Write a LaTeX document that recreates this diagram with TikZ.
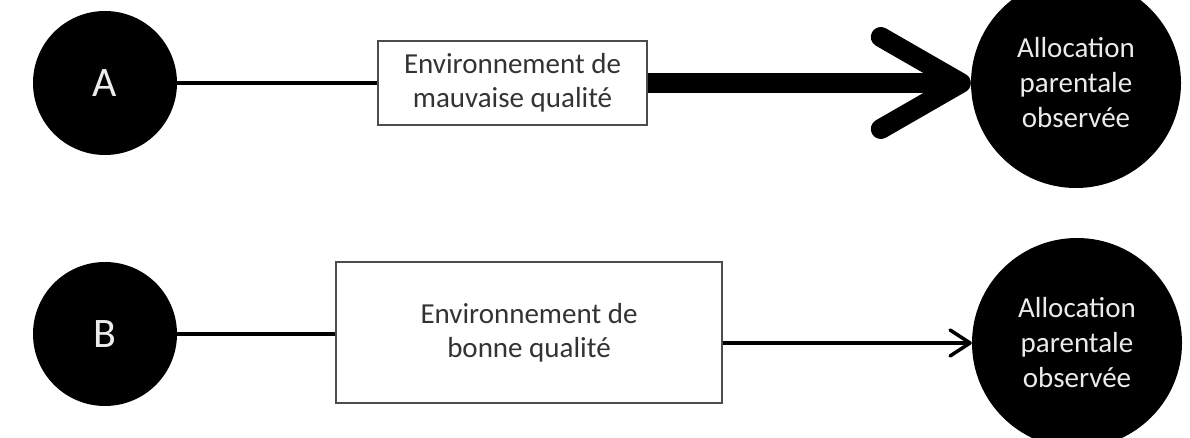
\documentclass[tikz,border=0pt]{standalone}
\usepackage{fontspec}
\setmainfont{Carlito}
\usetikzlibrary{arrows.meta}
\begin{document}
\begin{tikzpicture}[x=1pt,y=1pt,
  blob/.style={circle,fill=black,draw=none,text=white!92!black,inner sep=0pt,minimum size=#1,align=center},
  envbox/.style={rectangle,draw=black!70,line width=1.5pt,fill=white,text=black!80,align=center,font=\fontsize{29}{34}\selectfont,inner sep=0pt},
  link/.style={line width=3.5pt},
  fatarrow/.style={line width=20pt,-{Straight Barb[length=80pt,width=92pt,round]}},
  thinarrow/.style={line width=3.5pt,-{Straight Barb[length=20pt,width=26pt,round]}}
]
\useasboundingbox (0,0) rectangle (1190,438);
\clip (0,0) rectangle (1190,438);
% row A
\node[blob=144pt,font=\fontsize{42}{42}\selectfont] (A) at (105,355) {A};
\node[envbox,minimum width=269pt,minimum height=84pt] (E1) at (512.5,355) {Environnement de\\mauvaise qualité};
\node[blob=210pt,font=\fontsize{29}{35}\selectfont] (R1) at (1076,355) {Allocation\\parentale\\observée};
\draw[link] (A.east) -- (E1.west);
\draw[fatarrow] (E1.east) -- (R1.west);
% row B
\node[blob=144pt,font=\fontsize{42}{42}\selectfont] (B) at (105,104) {B};
\node[envbox,minimum width=386pt,minimum height=141pt] (E2) at (529,105.5) {Environnement de\\bonne qualité};
\node[blob=210pt,font=\fontsize{29}{35}\selectfont] (R2) at (1077,95) {Allocation\\parentale\\observée};
\draw[link] (B.east) -- (B.east -| E2.west);
\draw[thinarrow] (E2.east |- R2.west) -- (R2.west);
\end{tikzpicture}
\end{document}
